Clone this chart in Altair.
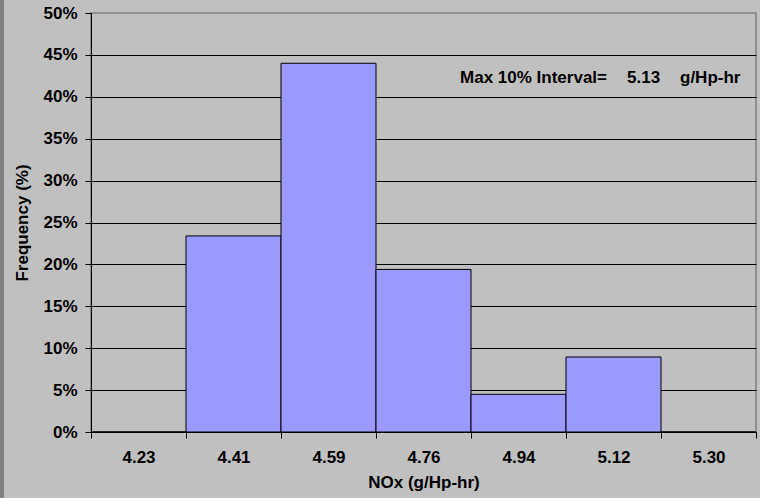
import altair as alt
import pandas as pd

# Data
bin_labels = ["4.23", "4.41", "4.59", "4.76", "4.94", "5.12", "5.30"]
frequency = [0.0, 0.234, 0.440, 0.194, 0.045, 0.0895, 0.0]

annot_label = "Max 10% Interval="
annot_value = "5.13"
annot_unit = "g/Hp-hr"

df = pd.DataFrame({
    "bin": bin_labels,
    "start": list(range(len(bin_labels))),
    "end": [i + 1 for i in range(len(bin_labels))],
    "freq": frequency,
})

FONT = "Liberation Sans"
FS = 17
label_arr = "[" + ",".join("'%s'" % b for b in bin_labels) + "]"
x_vals = [i * 0.5 for i in range(2 * len(bin_labels) + 1)]

x_axis = alt.Axis(
    values=x_vals,
    labelExpr="datum.value % 1 === 0 ? '' : " + label_arr + "[floor(datum.value)]",
    tickOpacity={"expr": "datum.value % 1 === 0 ? 1 : 0"},
    tickSize=6, tickColor="black", domainColor="black",
    labelFont=FONT, labelFontSize=FS, labelFontWeight="bold", labelColor="black",
    labelPadding=11, labelFlush=False, labelOverlap=False,
    title="NOx (g/Hp-hr)", titleFont=FONT, titleFontSize=FS, titleFontWeight="bold",
    titleColor="black", titlePadding=9, grid=False,
)

y_axis = alt.Axis(
    values=[i * 0.05 for i in range(11)], format=".0%",
    tickSize=6, tickColor="black", domainColor="black",
    gridColor="black", gridOpacity={"expr": "datum.value >= 0.499 ? 0 : 1"},
    labelFont=FONT, labelFontSize=FS, labelFontWeight="bold", labelColor="black",
    labelPadding=8,
    title="Frequency (%)", titleFont=FONT, titleFontSize=FS, titleFontWeight="bold",
    titleColor="black", titlePadding=11,
)

bars = alt.Chart(df).mark_bar(fill="#9999ff", stroke="black", strokeWidth=1).encode(
    x=alt.X("start:Q", scale=alt.Scale(domain=[0, 7], nice=False, zero=False), axis=x_axis),
    x2="end:Q",
    y=alt.Y("freq:Q", scale=alt.Scale(domain=[0, 0.5], nice=False), axis=y_axis),
    y2=alt.datum(0),
)

def ann_text(txt, px, align):
    return alt.Chart(pd.DataFrame({"t": [txt]})).mark_text(
        font=FONT, fontSize=FS, fontWeight="bold", color="black", align=align, baseline="middle"
    ).encode(text="t:N", x=alt.value(px), y=alt.value(65))

t1 = ann_text(annot_label, 516, "right")
t2 = ann_text(annot_value, 536, "left")
t3 = ann_text(annot_unit, 589, "left")

strip = alt.Chart(pd.DataFrame({"a": [0]})).mark_rect(color="#808080").encode(
    x=alt.value(-91), x2=alt.value(-87), y=alt.value(-13), y2=alt.value(485)
)

chart = alt.layer(strip, bars, t1, t2, t3).properties(
    width=665, height=419,
    autosize=alt.AutoSizeParams(type="none"),
    padding={"left": 91, "top": 13, "right": 4, "bottom": 66},
    background="#c0c0c0",
).configure_view(stroke="#808080", strokeWidth=1.5)

chart.save("out.html", embed_options={"renderer": "svg", "actions": False})
